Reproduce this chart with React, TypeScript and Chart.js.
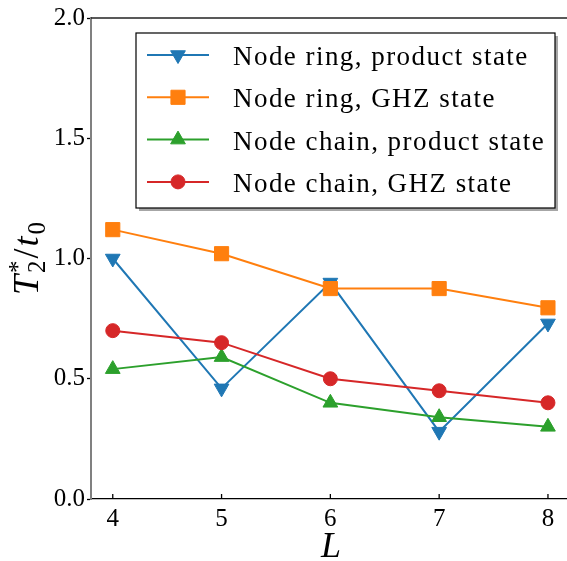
import React, { useEffect, useRef } from 'react';
import { Chart, registerables } from 'chart.js';

Chart.register(...registerables);

const lValues = [4, 5, 6, 7, 8];
const ringProduct = [1.0, 0.46, 0.9, 0.28, 0.73];
const ringGHZ = [1.12, 1.02, 0.875, 0.875, 0.795];
const chainProduct = [0.54, 0.59, 0.4, 0.34, 0.3];
const chainGHZ = [0.7, 0.65, 0.5, 0.45, 0.4];
const seriesLabels = [
  'Node ring, product state',
  'Node ring, GHZ state',
  'Node chain, product state',
  'Node chain, GHZ state',
];
const seriesColors = ['#1f77b4', '#ff7f0e', '#2ca02c', '#d62728'];
const seriesMarkers = ['triangleDown', 'rect', 'triangle', 'circle'];
const xTicks = [4, 5, 6, 7, 8];
const yTicks = [0, 0.5, 1.0, 1.5, 2.0];

const SERIF = '"Liberation Serif", "DejaVu Serif", serif';

function markerOpts(kind: string) {
  if (kind === 'triangleDown') return { pointStyle: 'triangle', pointRotation: 180, pointRadius: 8.5 };
  if (kind === 'triangle') return { pointStyle: 'triangle', pointRotation: 0, pointRadius: 8.5 };
  if (kind === 'rect') return { pointStyle: 'rect', pointRotation: 0, pointRadius: 10 };
  return { pointStyle: 'circle', pointRotation: 0, pointRadius: 7 };
}

function drawMarker(ctx: CanvasRenderingContext2D, kind: string, x: number, y: number, color: string) {
  const o = markerOpts(kind);
  const r = o.pointRadius;
  ctx.save();
  ctx.fillStyle = color;
  ctx.strokeStyle = color;
  ctx.lineWidth = 1;
  ctx.beginPath();
  if (o.pointStyle === 'circle') {
    ctx.arc(x, y, r, 0, Math.PI * 2);
  } else if (o.pointStyle === 'rect') {
    const s = r * Math.SQRT1_2;
    ctx.rect(x - s, y - s, 2 * s, 2 * s);
  } else {
    let rad = (o.pointRotation * Math.PI) / 180 - Math.PI / 2;
    for (let k = 0; k < 3; k++) {
      const px = x + Math.cos(rad) * r;
      const py = y + Math.sin(rad) * r;
      if (k === 0) ctx.moveTo(px, py);
      else ctx.lineTo(px, py);
      rad += (2 * Math.PI) / 3;
    }
    ctx.closePath();
  }
  ctx.fill();
  ctx.stroke();
  ctx.restore();
}

const decorPlugin = {
  id: 'decor',
  afterDraw(chart: any) {
    const ctx: CanvasRenderingContext2D = chart.ctx;
    const area = chart.chartArea;
    const xs = chart.scales.x;
    ctx.save();
    // top spine
    ctx.strokeStyle = '#222';
    ctx.lineWidth = 1.3;
    ctx.beginPath();
    ctx.moveTo(area.left, area.top);
    ctx.lineTo(chart.width, area.top);
    ctx.stroke();
    // inward x ticks
    ctx.strokeStyle = '#000';
    ctx.lineWidth = 1.3;
    xTicks.forEach((v) => {
      const px = xs.getPixelForValue(v);
      ctx.beginPath();
      ctx.moveTo(px, area.bottom);
      ctx.lineTo(px, area.bottom - 5);
      ctx.stroke();
    });
    // x label
    ctx.fillStyle = '#000';
    ctx.font = `italic 36px ${SERIF}`;
    ctx.textAlign = 'center';
    ctx.textBaseline = 'alphabetic';
    ctx.fillText('L', 331, 557);

    // y label T_2^* / t_0
    const big = `italic 36px ${SERIF}`;
    const bigUp = `36px ${SERIF}`;
    const small = `25px ${SERIF}`;
    ctx.font = big;
    const wT = ctx.measureText('T').width;
    const wt = ctx.measureText('t').width;
    ctx.font = bigUp;
    const wSlash = ctx.measureText('/').width;
    ctx.font = small;
    const wStar = ctx.measureText('*').width;
    const w2 = ctx.measureText('2').width;
    const w0 = ctx.measureText('0').width;
    const gap = 2;
    const total = wT + gap + Math.max(wStar, w2) + gap + wSlash + gap + wt + gap + w0;
    ctx.translate(38, (area.top + area.bottom) / 2);
    ctx.rotate(-Math.PI / 2);
    ctx.textAlign = 'left';
    let cx = -total / 2;
    ctx.font = big;
    ctx.fillText('T', cx, 0);
    cx += wT + gap;
    ctx.font = small;
    ctx.fillText('*', cx, -12);
    ctx.fillText('2', cx, 7);
    cx += Math.max(wStar, w2) + gap;
    ctx.font = bigUp;
    ctx.fillText('/', cx, 0);
    cx += wSlash + gap;
    ctx.font = big;
    ctx.fillText('t', cx, 0);
    cx += wt + gap;
    ctx.font = small;
    ctx.fillText('0', cx, 7);
    ctx.restore();

    // legend
    ctx.save();
    const bx = 136, by = 33, bw = 419, bh = 175;
    ctx.fillStyle = 'rgba(0,0,0,0.35)';
    ctx.fillRect(bx + 3, by + 3, bw, bh);
    ctx.fillStyle = '#fff';
    ctx.fillRect(bx, by, bw, bh);
    ctx.strokeStyle = '#000';
    ctx.lineWidth = 1.2;
    ctx.strokeRect(bx, by, bw, bh);
    ctx.font = `27px ${SERIF}`;
    (ctx as any).letterSpacing = '1.45px';
    ctx.textAlign = 'left';
    ctx.textBaseline = 'alphabetic';
    seriesLabels.forEach((lab, i) => {
      const y = 55 + i * 42.3;
      ctx.strokeStyle = seriesColors[i];
      ctx.lineWidth = 2;
      ctx.beginPath();
      ctx.moveTo(147, y);
      ctx.lineTo(209, y);
      ctx.stroke();
      drawMarker(ctx, seriesMarkers[i], 178, y, seriesColors[i]);
      ctx.fillStyle = '#000';
      ctx.fillText(lab, 233, y + 10);
    });
    ctx.restore();
  },
};

export default function App() {
  const ref = useRef<HTMLCanvasElement | null>(null);
  useEffect(() => {
    document.body.style.margin = '0';
    const canvas = ref.current;
    if (!canvas) return;
    const series = [ringProduct, ringGHZ, chainProduct, chainGHZ];
    const chart = new Chart(canvas, {
      type: 'line',
      data: {
        datasets: series.map((arr, i) => {
          const m = markerOpts(seriesMarkers[i]);
          return {
            label: seriesLabels[i],
            data: lValues.map((x, j) => ({ x, y: arr[j] })),
            borderColor: seriesColors[i],
            backgroundColor: seriesColors[i],
            pointBackgroundColor: seriesColors[i],
            pointBorderColor: seriesColors[i],
            pointBorderWidth: 1,
            borderWidth: 2,
            pointStyle: m.pointStyle as any,
            pointRotation: m.pointRotation,
            pointRadius: m.pointRadius,
            tension: 0,
            fill: false,
            clip: false as any,
            order: 3 - i,
          };
        }),
      },
      options: {
        animation: false,
        responsive: false,
        maintainAspectRatio: false,
        devicePixelRatio: 1,
        layout: { autoPadding: false, padding: { top: 18, left: 0, right: 0, bottom: 0 } },
        plugins: { legend: { display: false }, tooltip: { enabled: false } },
        scales: {
          x: {
            type: 'linear',
            min: 3.8,
            max: 8.175,
            afterBuildTicks: (s: any) => {
              s.ticks = xTicks.map((v) => ({ value: v }));
            },
            afterFit: (s: any) => {
              s.height = 62;
              s.paddingLeft = 0;
              s.paddingRight = 0;
            },
            grid: { display: false },
            border: { display: true, color: '#000', width: 1.3 },
            ticks: {
              color: '#000',
              font: { family: SERIF, size: 25 },
              padding: -3,
              maxRotation: 0,
              callback: (v: any) => String(v),
            },
          },
          y: {
            type: 'linear',
            min: 0,
            max: 2.0,
            afterBuildTicks: (s: any) => {
              s.ticks = yTicks.map((v) => ({ value: v }));
            },
            afterFit: (s: any) => {
              s.width = 91;
              s.paddingTop = 0;
              s.paddingBottom = 0;
            },
            grid: {
              display: true,
              drawOnChartArea: false,
              drawTicks: true,
              tickLength: 4,
              tickColor: '#000',
              tickWidth: 1.3,
            },
            border: { display: true, color: '#808080', width: 2 },
            ticks: {
              color: '#000',
              font: { family: SERIF, size: 25 },
              padding: 2,
              callback: (v: any) => Number(v).toFixed(1),
            },
          },
        },
      },
      plugins: [decorPlugin],
    });
    return () => chart.destroy();
  }, []);
  return (
    <div style={{ width: 567, height: 561, overflow: 'hidden' }}>
      <canvas ref={ref} width={567} height={561} style={{ display: 'block', width: 567, height: 561 }} />
    </div>
  );
}
